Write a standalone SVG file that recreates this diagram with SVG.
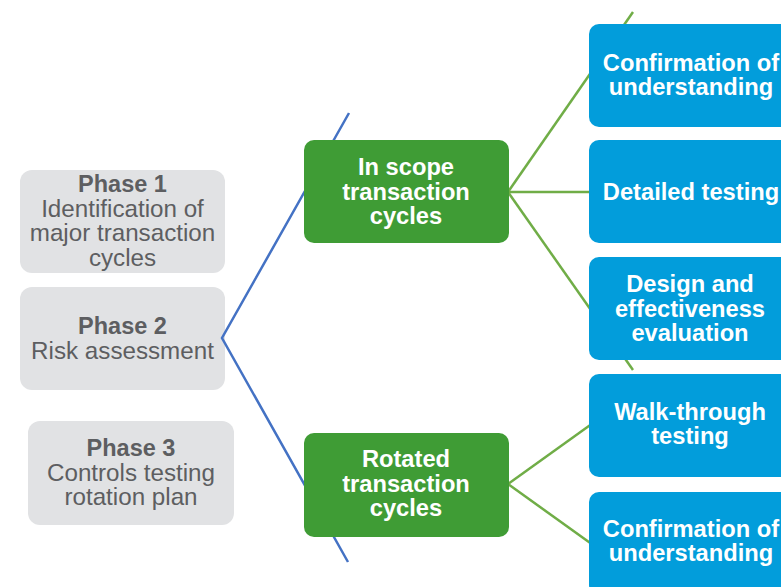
<svg xmlns="http://www.w3.org/2000/svg" width="781" height="587" viewBox="0 0 781 587">
<style>
.gray{fill:#e1e2e4}
.green{fill:#3f9c35}
.blue{fill:#029ddb}
.gt{font-family:"Liberation Sans",Arial,sans-serif;font-size:24.2px;fill:#5d5e61;text-anchor:middle}
.gt .b{font-weight:bold;font-size:23.5px}
.wt{font-family:"Liberation Sans",Arial,sans-serif;font-size:23.7px;font-weight:bold;fill:#ffffff;text-anchor:middle}
.cb{stroke:#4472c4;stroke-width:2.5;fill:none}
.cg{stroke:#70ad47;stroke-width:2.5;fill:none}
</style>
<rect width="781" height="587" fill="#ffffff"/>
<g id="phase1">
<rect class="gray" x="20" y="170" width="205" height="103" rx="12"/>
<text class="gt" x="122.5" y="192"><tspan class="b">Phase 1</tspan><tspan x="122.5" dy="24.5">Identification of</tspan><tspan x="122.5" dy="24.5">major transaction</tspan><tspan x="122.5" dy="24.5">cycles</tspan></text>
</g>
<g id="phase2">
<rect class="gray" x="20" y="287" width="205" height="103" rx="12"/>
<text class="gt" x="122.5" y="334"><tspan class="b">Phase 2</tspan><tspan x="122.5" dy="24.5">Risk assessment</tspan></text>
</g>
<g id="phase3">
<rect class="gray" x="28" y="421" width="206" height="104" rx="12"/>
<text class="gt" x="131" y="456"><tspan class="b">Phase 3</tspan><tspan x="131" dy="24.5">Controls testing</tspan><tspan x="131" dy="24.5">rotation plan</tspan></text>
</g>
<g id="connectors">
<polyline class="cb" points="349,113 222,338 348,562"/>
<line class="cg" x1="508" y1="192" x2="633" y2="12"/>
<line class="cg" x1="508" y1="192" x2="592" y2="192"/>
<line class="cg" x1="508" y1="192" x2="633" y2="370"/>
<line class="cg" x1="508" y1="484" x2="600" y2="418"/>
<line class="cg" x1="508" y1="484" x2="600" y2="550"/>
</g>
<g id="inscope">
<rect class="green" x="304" y="140" width="205" height="103" rx="10"/>
<text class="wt" x="406" y="175"><tspan>In scope</tspan><tspan x="406" dy="24.5">transaction</tspan><tspan x="406" dy="24.5">cycles</tspan></text>
</g>
<g id="rotated">
<rect class="green" x="304" y="433" width="205" height="104" rx="10"/>
<text class="wt" x="406" y="467"><tspan>Rotated</tspan><tspan x="406" dy="24.5">transaction</tspan><tspan x="406" dy="24.5">cycles</tspan></text>
</g>
<g id="confirm1">
<rect class="blue" x="589" y="24" width="203" height="103" rx="10"/>
<text class="wt" x="691" y="71"><tspan>Confirmation of</tspan><tspan x="691" dy="24">understanding</tspan></text>
</g>
<g id="detailed">
<rect class="blue" x="589" y="140" width="203" height="103" rx="10"/>
<text class="wt" x="691" y="200">Detailed testing</text>
</g>
<g id="design">
<rect class="blue" x="589" y="257" width="203" height="103" rx="10"/>
<text class="wt" x="690" y="292"><tspan>Design and</tspan><tspan x="690" dy="24.5">effectiveness</tspan><tspan x="690" dy="24.5">evaluation</tspan></text>
</g>
<g id="walkthrough">
<rect class="blue" x="589" y="374" width="203" height="103" rx="10"/>
<text class="wt" x="690" y="420"><tspan>Walk-through</tspan><tspan x="690" dy="24">testing</tspan></text>
</g>
<g id="confirm2">
<rect class="blue" x="589" y="492" width="203" height="103" rx="10"/>
<text class="wt" x="691" y="537"><tspan>Confirmation of</tspan><tspan x="691" dy="24">understanding</tspan></text>
</g>
</svg>
